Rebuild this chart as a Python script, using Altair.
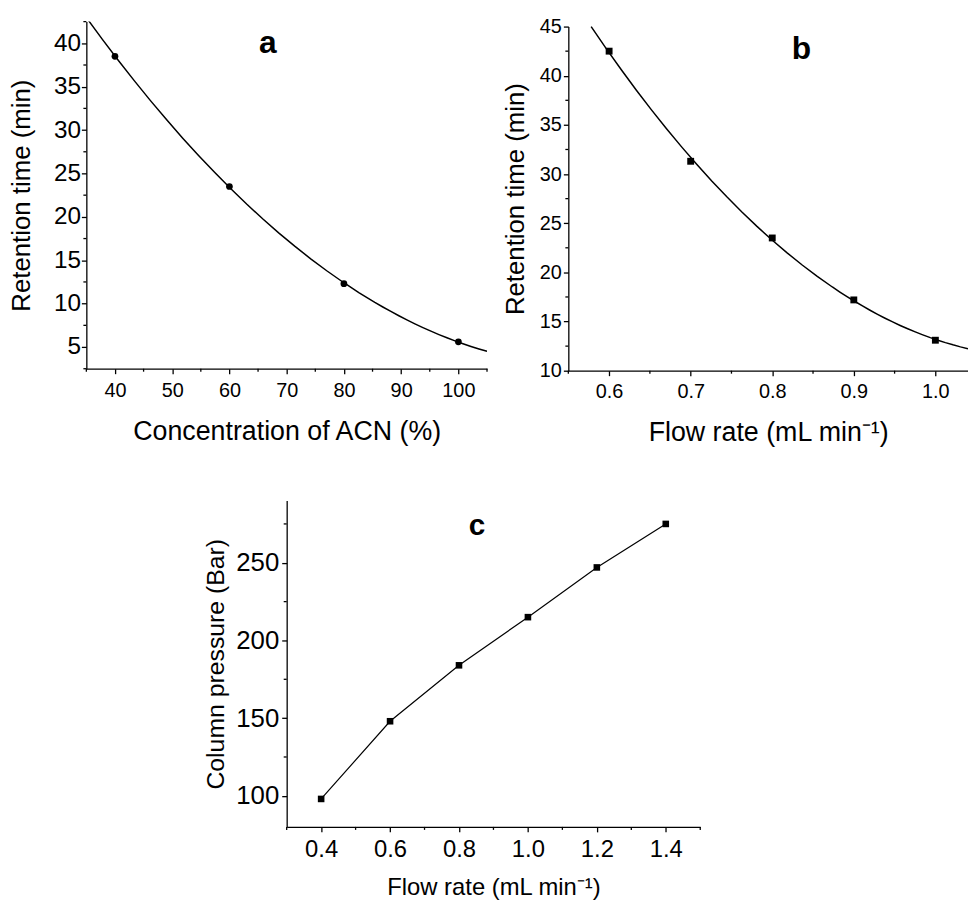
import altair as alt
import pandas as pd

FONT = "Liberation Sans"

# ---------------- Panel a ----------------
a_conc = [40, 60, 80, 100]
a_rt = [38.5, 23.5, 12.3, 5.6]
a_x_major = [40, 50, 60, 70, 80, 90, 100]
a_x_minor = [35, 45, 55, 65, 75, 85, 95, 105]
a_y_major = [5, 10, 15, 20, 25, 30, 35, 40]
a_y_minor = [2.5, 7.5, 12.5, 17.5, 22.5, 27.5, 32.5, 37.5, 42.5]

# ---------------- Panel b ----------------
b_flow = [0.6, 0.7, 0.8, 0.9, 1.0]
b_rt = [42.5, 31.3, 23.5, 17.2, 13.1]
b_x_major = [0.6, 0.7, 0.8, 0.9, 1.0]
b_x_minor = [0.55, 0.65, 0.75, 0.85, 0.95]
b_y_major = [10, 15, 20, 25, 30, 35, 40, 45]
b_y_minor = [12.5, 17.5, 22.5, 27.5, 32.5, 37.5, 42.5]

# ---------------- Panel c ----------------
c_flow = [0.4, 0.6, 0.8, 1.0, 1.2, 1.4]
c_pressure = [98, 148, 184, 215, 247, 275]
c_x_major = [0.4, 0.6, 0.8, 1.0, 1.2, 1.4]
c_x_minor = [0.3, 0.5, 0.7, 0.9, 1.1, 1.3, 1.5]
c_y_major = [100, 150, 200, 250]
c_y_minor = [125, 175, 225, 275]

FLOW_TITLE = "Flow rate (mL min\u207b\u00b9)"

# ---------- panel a ----------
AW, AH = 404, 350
a_df = pd.DataFrame({"conc": a_conc, "rt": a_rt})
ax_s = alt.Scale(domain=[35, 105], nice=False, zero=False)
ay_s = alt.Scale(domain=[2.5, 42.5], nice=False, zero=False)
ax_ax = alt.Axis(values=a_x_major, title="Concentration of ACN (%)",
                 tickSize=5, labelPadding=7, labelFontSize=20, titleFontSize=27, titlePadding=18)
ay_ax = alt.Axis(values=a_y_major, title="Retention time (min)",
                 tickSize=5, labelPadding=1, labelFontSize=24.5, titleFontSize=26, titlePadding=19)

a_fit = alt.Chart(a_df).transform_regression("conc", "rt", method="poly", order=2, extent=[35, 105]).mark_line(
    clip=True, color="black", strokeWidth=1.5).encode(
    x=alt.X("conc:Q", scale=ax_s, axis=ax_ax), y=alt.Y("rt:Q", scale=ay_s, axis=ay_ax))
a_pts = alt.Chart(a_df).mark_point(filled=True, shape="circle", size=46, color="black", opacity=1).encode(
    x=alt.X("conc:Q", scale=ax_s, axis=ax_ax), y=alt.Y("rt:Q", scale=ay_s, axis=ay_ax))
a_xmin = alt.Chart(pd.DataFrame({"conc": a_x_minor})).mark_rule(color="black", strokeWidth=1.3).encode(
    x=alt.X("conc:Q", scale=ax_s, axis=ax_ax), y=alt.value(AH), y2=alt.value(AH + 3))
a_ymin = alt.Chart(pd.DataFrame({"rt": a_y_minor})).mark_rule(color="black", strokeWidth=1.3).encode(
    y=alt.Y("rt:Q", scale=ay_s, axis=ay_ax), x=alt.value(0), x2=alt.value(-3))
a_lab = alt.Chart(pd.DataFrame({"t": ["a"]})).mark_text(
    font=FONT, fontSize=32, fontWeight="bold", align="center", baseline="alphabetic", color="black").encode(
    text="t:N", x=alt.value(183), y=alt.value(32))
panel_a = alt.layer(a_fit, a_pts, a_xmin, a_ymin, a_lab).properties(width=AW, height=AH)

# ---------- panel b ----------
BW, BH = 403, 352
b_df = pd.DataFrame({"flow": b_flow, "rt": b_rt})
bx_s = alt.Scale(domain=[0.55, 1.04], nice=False, zero=False)
by_s = alt.Scale(domain=[10, 45], range=[BH, 5], nice=False, zero=False)
bx_ax = alt.Axis(values=b_x_major, format=".1f", title=FLOW_TITLE,
                 tickSize=5, labelPadding=6, labelFontSize=20, titleFontSize=27, titlePadding=18)
by_ax = alt.Axis(values=b_y_major, title="Retention time (min)",
                 tickSize=5, labelPadding=2, labelFontSize=20, titleFontSize=26, titlePadding=11)

b_fit = alt.Chart(b_df).transform_regression("flow", "rt", method="poly", order=2, extent=[0.578, 1.04]).mark_line(
    clip=True, color="black", strokeWidth=1.5).encode(
    x=alt.X("flow:Q", scale=bx_s, axis=bx_ax), y=alt.Y("rt:Q", scale=by_s, axis=by_ax))
b_pts = alt.Chart(b_df).mark_square(size=48, color="black", opacity=1).encode(
    x=alt.X("flow:Q", scale=bx_s, axis=bx_ax), y=alt.Y("rt:Q", scale=by_s, axis=by_ax))
b_xmin = alt.Chart(pd.DataFrame({"flow": b_x_minor})).mark_rule(color="black", strokeWidth=1.3).encode(
    x=alt.X("flow:Q", scale=bx_s, axis=bx_ax), y=alt.value(BH), y2=alt.value(BH + 3))
b_ymin = alt.Chart(pd.DataFrame({"rt": b_y_minor})).mark_rule(color="black", strokeWidth=1.3).encode(
    y=alt.Y("rt:Q", scale=by_s, axis=by_ax), x=alt.value(0), x2=alt.value(-3))
b_lab = alt.Chart(pd.DataFrame({"t": ["b"]})).mark_text(
    font=FONT, fontSize=32, fontWeight="bold", align="center", baseline="alphabetic", color="black").encode(
    text="t:N", x=alt.value(235), y=alt.value(38))
panel_b = alt.layer(b_fit, b_pts, b_xmin, b_ymin, b_lab).properties(width=BW, height=BH)

# ---------- panel c ----------
CX0 = 202
CW, CH = 619, 329
c_df = pd.DataFrame({"flow": c_flow, "p": c_pressure})
cx_s = alt.Scale(domain=[0.3, 1.5], range=[CX0, CW], nice=False, zero=False)
cy_s = alt.Scale(domain=[80, 290], nice=False, zero=False)
cx_ax = alt.Axis(values=c_x_major, format=".1f", title=FLOW_TITLE,
                 tickSize=5, labelPadding=6, labelFontSize=24, titleFontSize=24, titlePadding=14)
cy_ax = alt.Axis(values=c_y_major, title="Column pressure (Bar)", offset=-CX0,
                 tickSize=5, labelPadding=3, labelFontSize=26, titleFontSize=25, titlePadding=7)

c_line = alt.Chart(c_df).mark_line(color="black", strokeWidth=1.2).encode(
    x=alt.X("flow:Q", scale=cx_s, axis=cx_ax), y=alt.Y("p:Q", scale=cy_s, axis=cy_ax))
c_pts = alt.Chart(c_df).mark_square(size=44, color="black", opacity=1).encode(
    x=alt.X("flow:Q", scale=cx_s, axis=cx_ax), y=alt.Y("p:Q", scale=cy_s, axis=cy_ax))
c_xmin = alt.Chart(pd.DataFrame({"flow": c_x_minor})).mark_rule(color="black", strokeWidth=1.3).encode(
    x=alt.X("flow:Q", scale=cx_s, axis=cx_ax), y=alt.value(CH), y2=alt.value(CH + 3))
c_ymin = alt.Chart(pd.DataFrame({"p": c_y_minor})).mark_rule(color="black", strokeWidth=1.3).encode(
    y=alt.Y("p:Q", scale=cy_s, axis=cy_ax), x=alt.value(CX0), x2=alt.value(CX0 - 3))
c_lab = alt.Chart(pd.DataFrame({"t": ["c"]})).mark_text(
    font=FONT, fontSize=30, fontWeight="bold", align="center", baseline="alphabetic", color="black").encode(
    text="t:N", x=alt.value(394), y=alt.value(35))
panel_c = alt.layer(c_line, c_pts, c_xmin, c_ymin, c_lab).properties(width=CW, height=CH)

top = alt.hconcat(panel_a, panel_b, spacing=14)
chart = alt.vconcat(top, panel_c, spacing=56).properties(
    padding={"left": 0, "top": 5, "right": 0, "bottom": 0},
    background="white",
).configure_view(strokeWidth=0).configure_axis(
    labelFont=FONT, titleFont=FONT, labelColor="black", titleColor="black",
    domainColor="black", tickColor="black", domainWidth=1.3, tickWidth=1.3,
    grid=False, titleFontWeight="normal", labelOverlap=False
)

chart.save("out.html", embed_options={"renderer": "svg", "actions": False})
